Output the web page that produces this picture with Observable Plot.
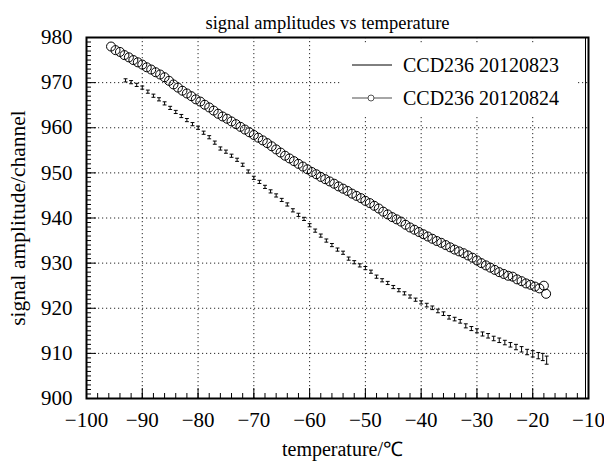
<!DOCTYPE html>
<html><head><meta charset="utf-8">
<script src="https://cdn.jsdelivr.net/npm/d3@7"></script>
<script src="https://cdn.jsdelivr.net/npm/@observablehq/plot@0.6"></script>
<style>
body{margin:0;background:#fff;}
#wrap{position:relative;width:604px;height:468px;font-family:"Liberation Serif","Times New Roman",serif;color:#000;}
#wrap svg text{font-family:"Liberation Serif","Times New Roman",serif;}
#legend{position:absolute;left:340px;top:45px;width:238px;height:70px;background:#fff;}
#legend svg{position:absolute;left:0;top:0;}
.lt{position:absolute;left:63px;font-size:20px;line-height:20px;white-space:nowrap;}
</style></head><body><div id="wrap"><div id="chart"></div><div id="legend"></div></div>
<script>
const title = "signal amplitudes vs temperature";
const xLabel = "temperature/℃";
const yLabel = "signal amplitude/channel";
const seriesNames = ["CCD236 20120823", "CCD236 20120824"];
const xTicks = [-100, -90, -80, -70, -60, -50, -40, -30, -20, -10];
const yTicks = [900, 910, 920, 930, 940, 950, 960, 970, 980];

// CCD236 20120823 (error bars)
const temp0823 = [-93,-92,-91,-90,-89,-88,-87,-86,-85,-84,-83,-82,-81,-80,-79,-78,-77,-76,-75,-74,-73,-72,-71,-70,-69,-68,-67,-66,-65,-64,-63,-62,-61,-60,-59,-58,-57,-56,-55,-54,-53,-52,-51,-50,-49,-48,-47,-46,-45,-44,-43,-42,-41,-40,-39,-38,-37,-36,-35,-34,-33,-32,-31,-30,-29,-28,-27,-26,-25,-24,-23,-22,-21,-20,-19,-18.2,-17.5];
const amp0823 = [970.5,970.1,969.5,968.9,968.0,967.1,966.3,965.4,964.4,963.5,962.6,961.7,960.8,960.0,958.9,957.9,956.7,955.4,954.7,953.8,952.9,951.8,950.3,948.9,948.0,946.9,945.9,945.0,944.0,943.0,941.7,940.7,939.8,938.4,937.2,936.1,935.0,934.0,933.0,932.3,931.0,930.2,929.5,928.9,928.1,927.0,926.2,925.6,924.7,924.0,923.3,922.6,921.9,921.3,920.7,920.1,919.4,918.8,918.0,917.6,917.1,916.1,915.5,915.0,914.3,913.9,913.3,912.9,912.4,911.9,911.4,910.9,910.3,909.9,909.5,909.2,908.5];
const err0823 = [0.35,0.35,0.35,0.35,0.35,0.35,0.35,0.35,0.35,0.35,0.35,0.35,0.35,0.35,0.35,0.35,0.35,0.35,0.35,0.35,0.35,0.35,0.35,0.35,0.35,0.35,0.35,0.35,0.35,0.35,0.35,0.35,0.35,0.35,0.35,0.35,0.35,0.35,0.35,0.35,0.35,0.35,0.35,0.35,0.35,0.35,0.35,0.35,0.35,0.35,0.35,0.35,0.35,0.35,0.4,0.4,0.4,0.4,0.4,0.4,0.4,0.45,0.45,0.45,0.45,0.5,0.5,0.5,0.5,0.5,0.6,0.6,0.6,0.7,0.7,0.8,0.9];

// CCD236 20120824 (open circles)
const temp0824 = [-95.6,-94.8,-94.0,-93.2,-92.4,-91.6,-90.8,-90.0,-89.2,-88.4,-87.6,-86.8,-86.0,-85.2,-84.4,-83.6,-82.8,-82.0,-81.2,-80.4,-79.6,-78.8,-78.0,-77.2,-76.4,-75.6,-74.8,-74.0,-73.2,-72.4,-71.6,-70.8,-70.0,-69.2,-68.4,-67.6,-66.8,-66.0,-65.2,-64.4,-63.6,-62.8,-62.0,-61.2,-60.4,-59.6,-58.8,-58.0,-57.2,-56.4,-55.6,-54.8,-54.0,-53.2,-52.4,-51.6,-50.8,-50.0,-49.2,-48.4,-47.6,-46.8,-46.0,-45.2,-44.4,-43.6,-42.8,-42.0,-41.2,-40.4,-39.6,-38.8,-38.0,-37.2,-36.4,-35.6,-34.8,-34.0,-33.2,-32.4,-31.6,-30.8,-30.0,-29.2,-28.4,-27.6,-26.8,-26.0,-25.2,-24.4,-23.6,-22.8,-22.0,-21.2,-20.4,-19.6,-18.8,-18.0,-17.6];
const amp0824 = [978.0,977.2,976.8,976.1,975.6,975.0,974.5,974.0,973.4,972.9,972.3,971.8,971.2,970.4,969.6,968.9,968.2,967.6,967.0,966.3,965.8,965.1,964.5,963.8,963.1,962.5,962.0,961.4,960.8,960.2,959.6,959.0,958.4,957.8,957.2,956.6,955.9,955.2,954.5,953.8,953.2,952.6,952.0,951.4,950.8,950.2,949.7,949.1,948.6,948.1,947.6,947.0,946.5,946.0,945.4,944.9,944.4,943.8,943.3,942.7,942.1,941.4,940.8,940.2,939.7,939.2,938.5,937.9,937.4,936.9,936.4,935.9,935.4,934.9,934.5,934.0,933.5,933.0,932.6,932.2,931.7,931.2,930.6,930.0,929.5,929.0,928.5,928.0,927.6,927.2,927.0,926.4,926.0,925.5,925.2,924.8,924.4,925.0,923.2];

const s1 = temp0823.map((t, i) => ({t, a: amp0823[i], e: err0823[i]}));
const s2 = temp0824.map((t, i) => ({t, a: amp0824[i]}));

const W = 604, H = 468, ML = 86, MR = 16, MT = 37, MB = 70;
const innerW = W - ML - MR, innerH = H - MT - MB;
const minorX = d3.range(-100, -9, 2);
const minorY = d3.range(900, 981, 1);
const capHalf = 0.35;
const serif = '"Liberation Serif", "Times New Roman", serif';

const chart = Plot.plot({
  width: W, height: H,
  marginLeft: ML, marginRight: MR, marginTop: MT, marginBottom: MB,
  style: {fontFamily: serif, fontSize: "20px", background: "#fff", color: "#000"},
  x: {domain: [-100, -10]},
  y: {domain: [900, 980]},
  marks: [
    Plot.gridX(xTicks.slice(1, -1), {stroke: "#000", strokeOpacity: 0.85, strokeDasharray: "1.2,2.8"}),
    Plot.gridY(yTicks.slice(1, -1), {stroke: "#000", strokeOpacity: 0.85, strokeDasharray: "1.2,2.8"}),
    Plot.tickX(minorX, {x: d => d, insetTop: innerH - 5, stroke: "#000"}),
    Plot.tickX(xTicks, {x: d => d, insetTop: innerH - 10, stroke: "#000"}),
    Plot.tickY(minorY, {y: d => d, insetRight: innerW - 5, stroke: "#000"}),
    Plot.tickY(yTicks, {y: d => d, insetRight: innerW - 10, stroke: "#000"}),
    Plot.axisX(xTicks, {tickSize: 0, tickPadding: 14, label: null, fontSize: 21, fontFamily: serif}),
    Plot.axisY(yTicks, {tickSize: 0, tickPadding: 14, label: null, fontSize: 21, fontFamily: serif}),
    // error bars
    Plot.link(s1, {x1: "t", x2: "t", y1: d => d.a - d.e, y2: d => d.a + d.e, stroke: "#000", strokeWidth: 1}),
    Plot.link(s1, {x1: d => d.t - capHalf, x2: d => d.t + capHalf, y1: d => d.a + d.e, y2: d => d.a + d.e, stroke: "#000", strokeWidth: 1}),
    Plot.link(s1, {x1: d => d.t - capHalf, x2: d => d.t + capHalf, y1: d => d.a - d.e, y2: d => d.a - d.e, stroke: "#000", strokeWidth: 1}),
    // circles
    Plot.dot(s2, {x: "t", y: "a", r: 4.5, stroke: "#000", strokeWidth: 1, fill: "none"}),
    Plot.frame({stroke: "#000", strokeWidth: 2}),
    Plot.ruleX([-10], {dx: -3, stroke: "#000", strokeWidth: 1}),
    Plot.text([title], {frameAnchor: "top", dy: -22, dx: -10, fontSize: 18.5, fontFamily: serif}),
    Plot.text([xLabel], {frameAnchor: "bottom", dy: 57, dx: 5, fontSize: 20, fontFamily: serif}),
    Plot.text([yLabel], {frameAnchor: "left", dx: -68, rotate: -90, textAnchor: "middle", fontSize: 21.5, fontFamily: serif})
  ]
});
document.getElementById("chart").appendChild(chart);

// legend
const lg = document.getElementById("legend");
lg.innerHTML = `<svg width="238" height="70">
  <line x1="12" x2="52" y1="20" y2="20" stroke="#000" stroke-width="1"/>
  <line x1="12" x2="52" y1="53" y2="53" stroke="#888" stroke-width="1.5"/>
  <circle cx="31" cy="53" r="3" fill="#fff" stroke="#555" stroke-width="1"/>
</svg>`;
seriesNames.forEach((n, i) => {
  const d = document.createElement("div");
  d.className = "lt";
  d.style.top = (i === 0 ? 10 : 43) + "px";
  d.textContent = n;
  lg.appendChild(d);
});
</script></body></html>
